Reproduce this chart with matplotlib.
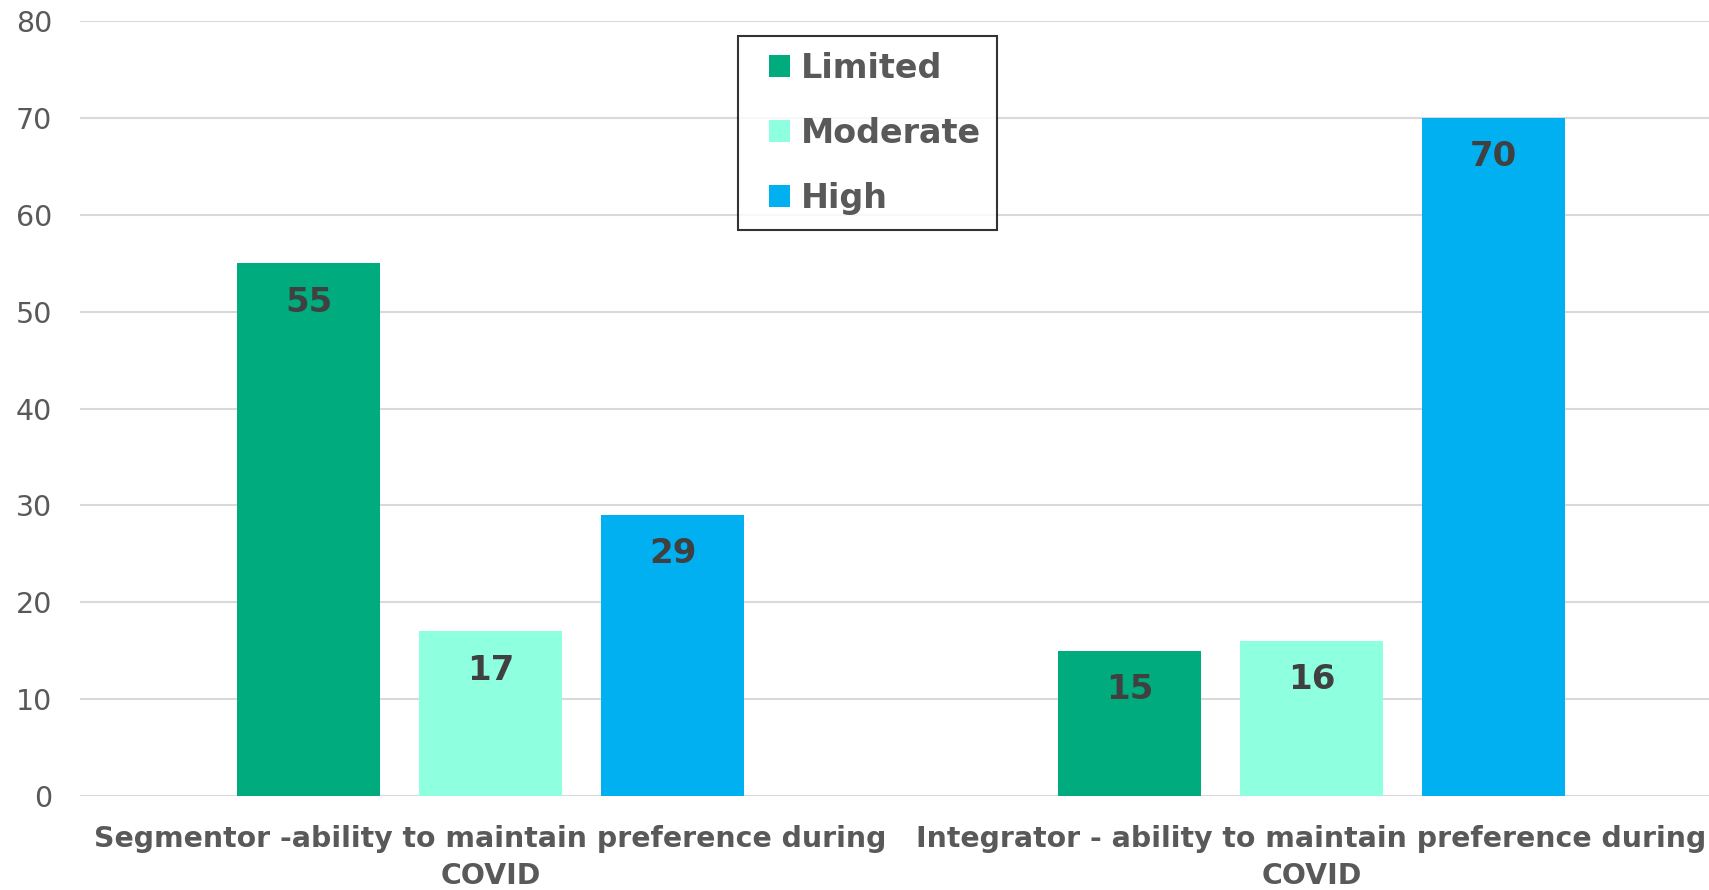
import numpy as np
import matplotlib.pyplot as plt
import matplotlib.patches as mpatches
from matplotlib.legend_handler import HandlerPatch

# Survey results: ability to maintain preference during COVID
categories = ["Segmentor -ability to maintain preference during\nCOVID",
              "Integrator - ability to maintain preference during\nCOVID"]
series_names = ["Limited", "Moderate", "High"]
limited = [55, 15]
moderate = [17, 16]
high = [29, 70]

colors = ["#00AB7E", "#8EFFDF", "#00B0F0"]
TEXT_GRAY = "#595959"
VALUE_GRAY = "#404040"

plt.rcParams['font.family'] = ['DejaVu Sans']


def square_right(legend, orig_handle, xdescent, ydescent, width, height, fontsize):
    # small square marker pushed to the right end of the handle box
    s = height
    return mpatches.Rectangle((-xdescent + width - s, -ydescent), s, s)


fig = plt.figure(figsize=(17.09, 8.90), dpi=100)
ax = fig.add_axes([80 / 1709, 94 / 890, 1629 / 1709, 775 / 890])

x = np.arange(len(categories))
step = 0.2217
width = 0.174

handles = []
for i, (name, vals, color) in enumerate(zip(series_names, [limited, moderate, high], colors)):
    bars = ax.bar(x + (i - 1) * step, vals, width, color=color, label=name, zorder=3)
    handles.append(bars.patches[0])
    for rect, v in zip(bars, vals):
        ax.annotate(f"{v}", xy=(rect.get_x() + rect.get_width() / 2, v),
                    xytext=(0, -28), textcoords='offset points',
                    ha='center', va='center', fontsize=24.5, fontweight='bold',
                    color=VALUE_GRAY, zorder=4)

ax.set_xlim(-0.5, 1.484)
ax.set_ylim(0, 80)
ax.set_yticks(np.arange(0, 81, 10))
ax.yaxis.grid(True, color='#D9D9D9', linewidth=1.5, zorder=0)
ax.set_axisbelow(True)
for s in ax.spines.values():
    s.set_visible(False)
ax.tick_params(axis='y', length=0, pad=20, labelsize=20.5, labelcolor=TEXT_GRAY)
ax.tick_params(axis='x', length=0, pad=21)
ax.set_xticks(x)
ax.set_xticklabels(categories, fontsize=20.4, fontweight='bold', color=TEXT_GRAY,
                   linespacing=1.38)

leg = ax.legend(handles, series_names, loc='upper left',
                bbox_to_anchor=(738 / 1709, 1 - 36 / 890),
                bbox_transform=fig.transFigure, fontsize=24, frameon=True,
                fancybox=False, edgecolor='black', handlelength=1.08,
                handleheight=0.6, handletextpad=0.35, labelspacing=0.96,
                borderpad=0.47, borderaxespad=0,
                handler_map={mpatches.Rectangle: HandlerPatch(patch_func=square_right)})
leg.get_frame().set_linewidth(1.5)
for t in leg.get_texts():
    t.set_color(TEXT_GRAY)
    t.set_fontweight('bold')

fig.savefig('out.png', dpi=100)
